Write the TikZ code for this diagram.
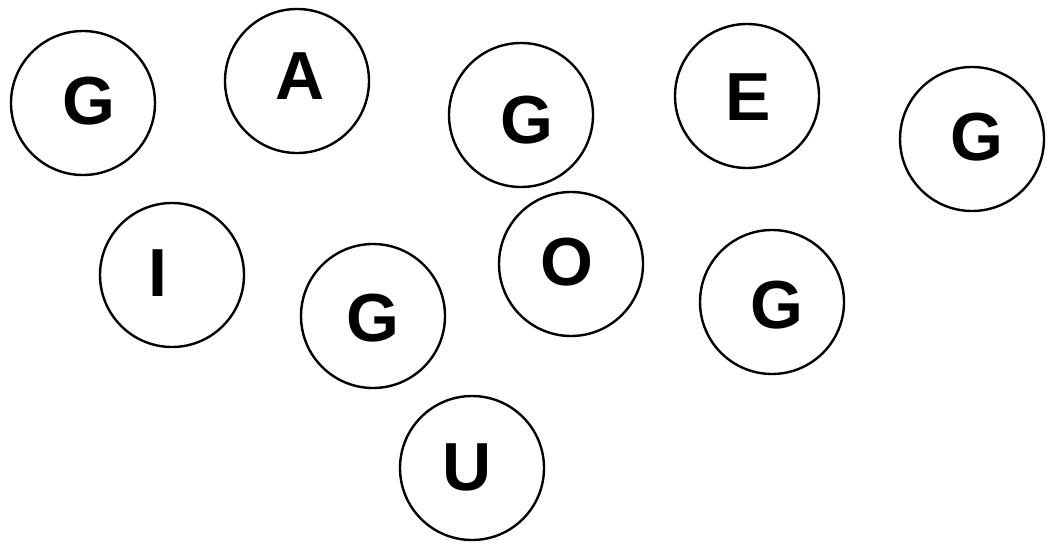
\documentclass[tikz,border=0pt]{standalone}
\usepackage{fontspec}
\setmainfont{Liberation Sans}
\begin{document}
\begin{tikzpicture}[x=1pt,y=-1pt,
  ring/.style={circle,draw=black,line width=2.4pt,minimum size=144pt,inner sep=0pt},
  letter/.style={font=\fontsize{68}{68}\selectfont\bfseries,inner sep=0pt}]
\useasboundingbox[fill=white] (0,0) rectangle (1048,554);
\node[ring] (c1) at (83,103) {};
\node[ring] (c2) at (297,81) {};
\node[ring] (c3) at (521,115) {};
\node[ring] (c4) at (747,96) {};
\node[ring] (c5) at (972,139) {};
\node[ring] (c6) at (172,275) {};
\node[ring] (c7) at (373,316) {};
\node[ring] (c8) at (571,264) {};
\node[ring] (c9) at (772,302) {};
\node[ring] (c10) at (472,468) {};
\node[letter] (l1) at (89,101) {G};
\node[letter] (l2) at (300,76) {A};
\node[letter] (l3) at (527,120) {G};
\node[letter] (l4) at (748,97) {E};
\node[letter] (l5) at (977,137) {G};
\node[letter] (l6) at (158,273) {I};
\node[letter] (l7) at (373,318) {G};
\node[letter] (l8) at (567,262) {O};
\node[letter] (l9) at (777,305) {G};
\node[letter] (l10) at (467,467) {U};
\end{tikzpicture}
\end{document}
